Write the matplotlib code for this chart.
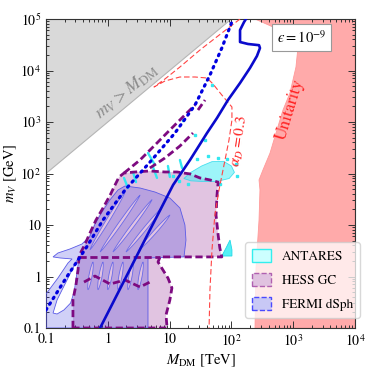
import numpy as np
import matplotlib
matplotlib.use('Agg')
import matplotlib.pyplot as plt
from matplotlib.patches import Polygon, Patch
from matplotlib.ticker import LogLocator, NullFormatter

plt.rcParams['font.family'] = ['STIXGeneral', 'DejaVu Serif']
plt.rcParams['mathtext.fontset'] = 'stix'

# --- data (M_DM in TeV, m_V in GeV) ---
grey_x = [0.1, 100, 0.1]
grey_y = [100, 1e5, 1e5]

unit_x = [241, 313, 611, 1069, 1196, 1109, 887, 684, 527, 422, 324, 280, 290, 280, 250, 241]
unit_y = [1e5, 8.7e4, 6.1e4, 3.9e4, 2.86e4, 1.17e4, 3660, 1710, 611, 250, 117, 75, 48, 12.5, 1.46, 0.1]

hess_x = [0.273, 0.273, 0.305, 0.33, 0.342, 0.368, 0.43, 0.497, 0.644, 0.836, 1.09, 1.31, 1.52, 1.83,
          2.75, 4.8, 8.4, 13.2, 21.4, 31, 45, 61, 58.5, 56.4, 61, 65, 70, 7.0, 6.5, 7.8, 9.4, 10.9,
          10.1, 8.75, 9.1]
hess_y = [0.1, 0.35, 0.68, 1.34, 2.35, 2.99, 4.28, 6.4, 12.5, 21.4, 38, 60, 85.5, 102,
          107, 112, 107, 107, 98, 82, 75, 68, 38, 15.6, 6.4, 3.57, 2.4, 2.4, 1.91, 1.34, 0.935, 0.60,
          0.35, 0.179, 0.1]
hess_step_x = [0.342, 7.0]
hess_step_y = [2.4, 2.4]
hess_inner_x = [0.412, 0.62, 1.09, 1.90, 3.32, 4.8]
hess_inner_y = [0.78, 1.02, 0.715, 0.855, 0.625, 0.78]
hess_fragA_x = [1.83, 3.32, 5.8, 10.1, 17.7, 25.8]
hess_fragA_y = [102, 183, 357, 700, 1370, 2140]
hess_fragB_x = [4.8, 8.4, 14.7, 23.9]
hess_fragB_y = [128, 200, 342, 611]
hess_fragC_x = [28.8, 37.4]
hess_fragC_y = [1710, 2670]

fermi_x = [0.1, 4.47, 4.47, 17.1, 18.4, 17.7, 14.7, 10.1, 5.8, 3.32, 1.90, 1.46, 1.09, 0.805,
           0.62, 0.515, 0.383, 0.244, 0.156, 0.130, 0.169, 0.264, 0.227, 0.156, 0.1]
fermi_y = [0.1, 0.1, 2.29, 2.4, 5.1, 10, 21.4, 33.4, 43.7, 52.3, 57.2, 47.8, 31, 17.9,
           10.4, 6.1, 4.28, 3.42, 2.86, 2.4, 2.29, 2.19, 1.83, 0.935, 0.457]
gap_x = [0.130, 0.151, 0.182, 0.219, 0.264, 0.318, 0.342, 0.325, 0.305, 0.285, 0.25, 0.195, 0.151]
gap_y = [0.195, 0.35, 0.55, 0.855, 1.34, 2.1, 2.29, 1.46, 0.855, 0.50, 0.305, 0.224, 0.187]

# light stripes (not excluded by FERMI) inside the FERMI region
stripe_x0 = [0.515, 0.75, 1.21, 1.97, 3.2, 0.478, 0.694, 1.0, 1.46, 2.12, 3.08]
stripe_y0 = [3.3, 2.99, 2.99, 2.99, 3.3, 0.55, 0.55, 0.55, 0.55, 0.55, 0.55]
stripe_x1 = [1.90, 3.32, 5.19, 7.5, 10.1, 0.576, 0.836, 1.21, 1.76, 2.56, 3.72]
stripe_y1 = [43.7, 38, 31, 21.4, 15.6, 1.91, 1.91, 1.91, 1.91, 1.91, 1.91]

ant_x = [17.0, 22.0, 33, 48.5, 75, 100, 112, 92, 58, 34, 22]
ant_y = [80, 105, 140, 170, 172, 140, 105, 80, 70, 70, 72]
ant2_x = [70, 81.8, 95, 102, 102]
ant2_y = [2.5, 3.57, 5.1, 3.3, 2.5]
ant_seg_x0 = [1.83, 2.56, 5.38, 9.4, 4.47, 14.7]
ant_seg_y0 = [82, 107, 134, 140, 250, 183]
ant_seg_x1 = [2.12, 2.86, 6.25, 10.1, 5.8, 15.9]
ant_seg_y1 = [52, 68, 82, 85.5, 146, 128]
ant_dot_x = [48.5, 16.5, 25.8, 37.4, 14.0, 20.0, 28.0, 42.0, 60.0, 85.0, 118, 125, 66, 11.5]
ant_dot_y = [5230, 1090, 560, 447, 70, 62, 190, 215, 200, 190, 150, 90, 62, 90]

solid_x = [0.75, 1.90, 4.8, 11.4, 21.4, 40.3, 58.5, 88, 138, 200, 259, 290, 280, 186, 138, 138, 160, 172]
solid_y = [0.1, 0.893, 8.0, 60, 183, 611, 1197, 2670, 5720, 1.12e4, 1.91e4, 2.73e4, 3.1e4, 3.27e4,
           3.57e4, 6.1e4, 8.7e4, 1e5]

dot_x = [0.1, 0.211, 0.444, 0.836, 1.90, 4.82, 12.2, 25.8, 45, 70, 106]
dot_y = [0.224, 0.935, 3.57, 12.5, 47.8, 167, 611, 2140, 8190, 2.73e4, 1e5]

alpha_x = [138, 70, 31, 14.7, 8.4, 5.6, 8.4, 14.7, 25.8, 40.3, 50.4, 70, 102, 102, 91.4, 75.9,
           63, 54, 48.5, 45, 43.5]
alpha_y = [1e5, 5.35e4, 2.5e4, 1.17e4, 6840, 4790, 6250, 7480, 7480, 7150, 5470, 3340, 1955,
           1090, 447, 146, 48, 15.6, 3.3, 0.55, 0.1]

xticks = [0.1, 1, 10, 100, 1e3, 1e4]
xticklabels = ['0.1', '1', '10', '$10^2$', '$10^3$', '$10^4$']
yticks = [0.1, 1, 10, 100, 1e3, 1e4, 1e5]
yticklabels = ['0.1', '1', '10', '$10^2$', '$10^3$', '$10^4$', '$10^5$']

# --- figure ---
fig = plt.figure(figsize=(3.66, 3.70), dpi=100)
ax = fig.add_axes([46 / 366, 1 - 328 / 370, 309 / 366, 309 / 370])
ax.set_xscale('log')
ax.set_yscale('log')
ax.set_xlim(0.1, 1e4)
ax.set_ylim(0.1, 1e5)

ax.add_patch(Polygon(np.column_stack([grey_x, grey_y]), closed=True, fc='#d9d9d9', ec='none', zorder=1))
ax.plot(grey_x[:2], grey_y[:2], color='#b5b5b5', lw=0.8, zorder=1.1)

ux = unit_x + [1e4, 1e4]
uy = unit_y + [0.1, 1e5]
ax.add_patch(Polygon(np.column_stack([ux, uy]), closed=True, fc='#ffaaaa', ec='#ff9a9a', lw=0.6, zorder=1))

ax.add_patch(Polygon(np.column_stack([hess_x, hess_y]), closed=True, fc=(0.5, 0, 0.5, 0.23), ec='none', zorder=2))
ax.add_patch(Polygon(np.column_stack([fermi_x, fermi_y]), closed=True, fc=(0.16, 0.16, 0.86, 0.22),
                     ec='#5a5ae6', lw=0.6, zorder=3))
ax.add_patch(Polygon(np.column_stack([gap_x, gap_y]), closed=True, fc='white', ec='#5a5ae6', lw=0.6, zorder=3.1))

# lens shaped stripes built in display space
to_disp = ax.transData
to_data = ax.transData.inverted()
t = np.linspace(0, 1, 24)
for x0, y0, x1, y1 in zip(stripe_x0, stripe_y0, stripe_x1, stripe_y1):
    p0 = to_disp.transform((x0, y0))
    p1 = to_disp.transform((x1, y1))
    d = p1 - p0
    n = np.array([-d[1], d[0]]) / np.hypot(*d)
    w = 1.6 * np.sin(np.pi * t) ** 0.6
    mid = p0[None, :] + d[None, :] * t[:, None]
    upper = mid + n[None, :] * w[:, None]
    lower = (mid - n[None, :] * w[:, None])[::-1]
    pts = to_data.transform(np.vstack([upper, lower]))
    ax.add_patch(Polygon(pts, closed=True, fc='#e2c4e2', ec='#6a6ae8', lw=0.6, zorder=3.2))

# ANTARES
ax.add_patch(Polygon(np.column_stack([ant_x, ant_y]), closed=True, fc=(0.3, 0.93, 0.96, 0.55),
                     ec=(0.15, 0.85, 0.92, 0.8), lw=0.6, zorder=4))
ax.add_patch(Polygon(np.column_stack([ant2_x, ant2_y]), closed=True, fc='#55f0f5', ec='#22d8e8', lw=0.6, zorder=4))
for x0, y0, x1, y1 in zip(ant_seg_x0, ant_seg_y0, ant_seg_x1, ant_seg_y1):
    ax.plot([x0, x1], [y0, y1], color='#33e8f0', lw=1.7, solid_capstyle='round', zorder=4)
ax.plot(ant_dot_x, ant_dot_y, 's', color='#33e8f0', ms=1.8, zorder=4)

# HESS dashed outlines
hd = dict(color='#7d0a80', lw=2.0, dashes=(2.6, 1.3), zorder=5)
ax.plot(hess_x + [hess_x[0]], hess_y + [hess_y[0]], **hd)
ax.plot(hess_step_x, hess_step_y, **hd)
ax.plot(hess_inner_x, hess_inner_y, **hd)
ax.plot(hess_fragA_x, hess_fragA_y, **hd)
ax.plot(hess_fragB_x, hess_fragB_y, **hd)
ax.plot(hess_fragC_x, hess_fragC_y, **hd)

# alpha_D = 0.3 contour
ax.plot(alpha_x, alpha_y, color='#ff4444', lw=0.8, dashes=(5, 2.5), zorder=6)

# blue lines
ax.plot(dot_x, dot_y, color='#0000e0', lw=2.3, linestyle=(0, (0.5, 1.6)), dash_capstyle='round', zorder=7)
ax.plot(solid_x, solid_y, color='#0a0acc', lw=1.9, zorder=7)

# texts
ax.text(2.0, 3900, r'$m_V > M_{\rm DM}$', color='#8c8c8c', fontsize=13, rotation=39,
        ha='center', va='center', zorder=8)
ax.text(887, 1710, 'Unitarity', color='#ff2020', fontsize=12.5, rotation=73,
        ha='center', va='center', zorder=8)
ax.text(138, 420, r'$\alpha_D = 0.3$', color='#ff2020', fontsize=11, rotation=82,
        ha='center', va='center', zorder=8)
ax.text(0.827, 0.94, '$\u03f5 = 10^{-9}$', transform=ax.transAxes, ha='center', va='center',
        fontsize=10.5, zorder=9,
        bbox=dict(boxstyle='square,pad=0.35', fc='white', ec='#999999', lw=0.8))

handles = [
    Patch(fc='#ccffff', ec='#33eeee', lw=1, label='ANTARES'),
    Patch(fc='#e0c2e0', ec='#b060b0', lw=1, ls='--', label='HESS GC'),
    Patch(fc='#c8c8f5', ec='#4a4aff', lw=1, ls='--', label='FERMI dSph'),
]
leg = ax.legend(handles=handles, loc='upper left', bbox_to_anchor=(0.644, 0.278), borderaxespad=0,
                fontsize=9.5, handlelength=1.5, handleheight=1.2, labelspacing=0.75,
                borderpad=0.5, framealpha=0.75, edgecolor='#cccccc', fancybox=True)
leg.set_zorder(10)

ax.set_xticks(xticks)
ax.set_xticklabels(xticklabels)
ax.set_yticks(yticks)
ax.set_yticklabels(yticklabels)
ax.xaxis.set_minor_locator(LogLocator(base=10, subs=np.arange(2, 10), numticks=20))
ax.yaxis.set_minor_locator(LogLocator(base=10, subs=np.arange(2, 10), numticks=20))
ax.xaxis.set_minor_formatter(NullFormatter())
ax.yaxis.set_minor_formatter(NullFormatter())
ax.tick_params(which='both', direction='in', top=True, right=True, labelsize=10, width=0.7, colors='#333333',
               labelcolor='black')
ax.tick_params(which='major', length=5)
ax.tick_params(which='minor', length=2.5)
for s in ax.spines.values():
    s.set_color('#333333')
    s.set_linewidth(0.8)

ax.set_xlabel(r'$M_{\rm DM}$ [TeV]', fontsize=10.5, labelpad=3)
ax.set_ylabel(r'$m_V$ [GeV]', fontsize=10.5, labelpad=1)

fig.savefig('out.png', dpi=100)
